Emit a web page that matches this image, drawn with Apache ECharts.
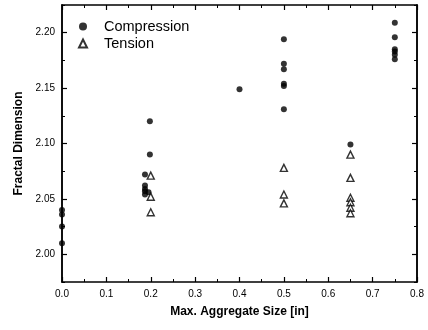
<!DOCTYPE html>
<html>
<head>
<meta charset="utf-8">
<script src="https://cdn.jsdelivr.net/npm/echarts@6/dist/echarts.min.js"></script>
<style>
  html, body { margin: 0; padding: 0; background: #fff; }
  #chart { width: 428px; height: 330px; }
</style>
</head>
<body>
<div id="chart"></div>
<script>
// 数据
const compressionX = [0, 0, 0, 0, 0.187, 0.187, 0.187, 0.187, 0.187, 0.195, 0.198, 0.198,
  0.4, 0.5, 0.5, 0.5, 0.5, 0.5, 0.5, 0.65, 0.75, 0.75, 0.75, 0.75, 0.75, 0.75];
const compressionY = [2.040, 2.036, 2.025, 2.010, 2.072, 2.062, 2.059, 2.057, 2.054, 2.056, 2.120, 2.090,
  2.149, 2.194, 2.172, 2.167, 2.154, 2.152, 2.131, 2.099, 2.209, 2.196, 2.185, 2.183, 2.180, 2.176];
const tensionX = [0.2, 0.2, 0.2, 0.5, 0.5, 0.5, 0.65, 0.65, 0.65, 0.65, 0.65, 0.65];
const tensionY = [2.071, 2.052, 2.038, 2.078, 2.054, 2.046, 2.090, 2.069, 2.051, 2.047, 2.042, 2.037];

const yLabelTicks = [2.00, 2.05, 2.10, 2.15, 2.20];
const yMinorTicks = [1.975, 2.025, 2.075, 2.125, 2.175, 2.225];

const pair = (xs, ys) => xs.map((x, i) => [x, ys[i]]);

const chart = echarts.init(document.getElementById('chart'));

const font = 'Liberation Sans, Arial, sans-serif';
const axisLine = { show: true, onZero: false, lineStyle: { color: '#000', width: 1.5 } };

const xBase = {
  type: 'value', min: 0, max: 0.8, interval: 0.1,
  axisLine: axisLine,
  axisTick: { inside: true, length: 5, lineStyle: { color: '#000', width: 1.2 } },
  minorTick: { show: true, splitNumber: 2, length: 3, lineStyle: { color: '#000', width: 1 } },
  splitLine: { show: false },
};

const yBase = {
  type: 'value', min: 1.975, max: 2.225,
  axisLine: axisLine,
  splitLine: { show: false },
};

const option = {
  animation: false,
  grid: { left: 62, right: 11, top: 5, bottom: 48 },
  legend: {
    orient: 'vertical',
    left: 78, top: 19,
    padding: 0,
    itemWidth: 8, itemHeight: 8, itemGap: 2,
    textStyle: { fontFamily: font, fontSize: 14.5, color: '#000', padding: [0, 0, 0, 12] },
    data: ['Compression', 'Tension'],
  },
  xAxis: [
    Object.assign({}, xBase, {
      position: 'bottom',
      name: 'Max. Aggregate Size [in]',
      nameLocation: 'middle', nameGap: 24,
      nameTextStyle: { fontFamily: font, fontSize: 12, fontWeight: 'bold', color: '#000' },
      axisLabel: {
        margin: 7, fontFamily: font, fontSize: 10, color: '#000',
        formatter: (v) => v.toFixed(1),
      },
    }),
    Object.assign({}, xBase, { position: 'top', axisLabel: { show: false } }),
  ],
  yAxis: [
    Object.assign({}, yBase, {
      position: 'left',
      name: 'Fractal Dimension',
      nameLocation: 'middle', nameGap: 34,
      nameTextStyle: { fontFamily: font, fontSize: 12, fontWeight: 'bold', color: '#000' },
      axisTick: { inside: true, length: 5, customValues: yLabelTicks, lineStyle: { color: '#000', width: 1.2 } },
      axisLabel: {
        margin: 7, fontFamily: font, fontSize: 10, color: '#000',
        customValues: yLabelTicks,
        formatter: (v) => v.toFixed(2),
      },
    }),
    Object.assign({}, yBase, {
      position: 'left',
      axisTick: { inside: true, length: 3, customValues: yMinorTicks, lineStyle: { color: '#000', width: 1 } },
      axisLabel: { show: false, customValues: yMinorTicks },
    }),
    Object.assign({}, yBase, {
      position: 'right',
      axisTick: { inside: true, length: 5, customValues: yLabelTicks, lineStyle: { color: '#000', width: 1.2 } },
      axisLabel: { show: false, customValues: yLabelTicks },
    }),
    Object.assign({}, yBase, {
      position: 'right',
      axisTick: { inside: true, length: 3, customValues: yMinorTicks, lineStyle: { color: '#000', width: 1 } },
      axisLabel: { show: false, customValues: yMinorTicks },
    }),
  ],
  series: [
    {
      name: 'Compression',
      type: 'scatter',
      symbol: 'circle',
      symbolSize: 6,
      itemStyle: { color: '#000' },
      data: pair(compressionX, compressionY),
    },
    {
      name: 'Tension',
      type: 'scatter',
      symbol: 'triangle',
      symbolSize: 7,
      itemStyle: { color: '#fff', borderColor: '#000', borderWidth: 1.4 },
      data: pair(tensionX, tensionY),
    },
  ],
};

chart.setOption(option);
</script>
</body>
</html>
